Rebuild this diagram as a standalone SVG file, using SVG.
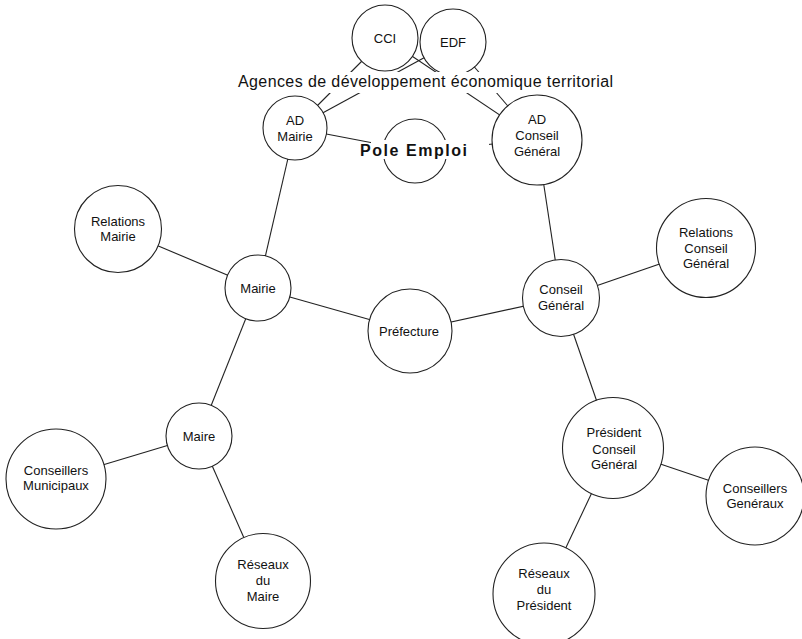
<svg xmlns="http://www.w3.org/2000/svg" width="802" height="639" viewBox="0 0 802 639">
  <style>
    .node circle { fill: #fff; stroke: #222; stroke-width: 1.1; }
    .node text { font-family: "Liberation Sans", Arial, sans-serif; font-size: 13px; fill: #111; text-anchor: middle; }
    #connectors line { stroke: #222; stroke-width: 1.1; }
    .title { font-family: "Liberation Sans", Arial, sans-serif; font-size: 16px; fill: #111; }
    .pole { font-family: "Liberation Sans", Arial, sans-serif; font-size: 16px; font-weight: bold; fill: #111; }
  </style>
  <rect width="802" height="639" fill="#fff"/>

  <!-- connectors, drawn centre to centre beneath the white-filled circles -->
  <g id="connectors">
    <line x1="385" y1="38" x2="295" y2="128"/>
    <line x1="453" y1="42" x2="295" y2="128"/>
    <line x1="385" y1="38" x2="537" y2="140"/>
    <line x1="453" y1="42" x2="537" y2="140"/>
    <line x1="295" y1="128" x2="415" y2="151"/>
    <line x1="415" y1="151" x2="537" y2="140"/>
    <line x1="295" y1="128" x2="258" y2="288"/>
    <line x1="118" y1="229" x2="258" y2="288"/>
    <line x1="258" y1="288" x2="410" y2="331"/>
    <line x1="258" y1="288" x2="199" y2="436"/>
    <line x1="199" y1="436" x2="56" y2="479"/>
    <line x1="199" y1="436" x2="263" y2="581"/>
    <line x1="410" y1="331" x2="561" y2="298"/>
    <line x1="561" y1="298" x2="537" y2="140"/>
    <line x1="561" y1="298" x2="706" y2="248"/>
    <line x1="561" y1="298" x2="613" y2="448"/>
    <line x1="613" y1="448" x2="755" y2="496"/>
    <line x1="613" y1="448" x2="544" y2="594"/>
  </g>

  <g id="cci" class="node">
    <circle cx="385" cy="38" r="33"/>
    <text x="385" y="43">CCI</text>
  </g>
  <g id="edf" class="node">
    <circle cx="453" cy="42" r="33"/>
    <text x="453" y="47">EDF</text>
  </g>

  <!-- heading over the agencies, on a white band -->
  <g id="agences">
    <rect x="236" y="72" width="380" height="21" fill="#fff"/>
    <text class="title" x="238" y="87" textLength="375" lengthAdjust="spacing">Agences de développement économique territorial</text>
  </g>

  <g id="ad-mairie" class="node">
    <circle cx="295" cy="128" r="32"/>
    <text x="295" y="125">AD</text>
    <text x="295" y="141">Mairie</text>
  </g>
  <g id="ad-conseil-general" class="node">
    <circle cx="537" cy="140" r="45"/>
    <text x="537" y="124">AD</text>
    <text x="537" y="140">Conseil</text>
    <text x="537" y="156">Général</text>
  </g>
  <g id="pole-emploi">
    <circle cx="415" cy="151" r="32" fill="#fff" stroke="#222" stroke-width="1.1"/>
    <rect x="371" y="140" width="118" height="19" fill="#fff"/>
    <text class="pole" x="360" y="156" textLength="107" lengthAdjust="spacing">Pole Emploi</text>
  </g>

  <g id="relations-mairie" class="node">
    <circle cx="118" cy="229" r="43.5"/>
    <text x="118" y="226">Relations</text>
    <text x="118" y="241">Mairie</text>
  </g>
  <g id="mairie" class="node">
    <circle cx="258" cy="288" r="33"/>
    <text x="258" y="292.5">Mairie</text>
  </g>
  <g id="prefecture" class="node">
    <circle cx="410" cy="331" r="42"/>
    <text x="409" y="335.5">Préfecture</text>
  </g>
  <g id="conseil-general" class="node">
    <circle cx="561" cy="298" r="38.5"/>
    <text x="561" y="294">Conseil</text>
    <text x="561" y="310">Général</text>
  </g>
  <g id="relations-conseil-general" class="node">
    <circle cx="706" cy="248" r="49.5"/>
    <text x="706" y="237">Relations</text>
    <text x="706" y="253">Conseil</text>
    <text x="706" y="268">Général</text>
  </g>
  <g id="maire" class="node">
    <circle cx="199" cy="436" r="33"/>
    <text x="199" y="441">Maire</text>
  </g>
  <g id="conseillers-municipaux" class="node">
    <circle cx="56" cy="479" r="50"/>
    <text x="56" y="475">Conseillers</text>
    <text x="56" y="490">Municipaux</text>
  </g>
  <g id="reseaux-du-maire" class="node">
    <circle cx="263" cy="581" r="47.5"/>
    <text x="263" y="569">Réseaux</text>
    <text x="263" y="585">du</text>
    <text x="263" y="601">Maire</text>
  </g>
  <g id="president-conseil-general" class="node">
    <circle cx="613" cy="448" r="50.5"/>
    <text x="614" y="437">Président</text>
    <text x="614" y="454">Conseil</text>
    <text x="614" y="469">Général</text>
  </g>
  <g id="conseillers-generaux" class="node">
    <circle cx="755" cy="496" r="49"/>
    <text x="755" y="493">Conseillers</text>
    <text x="755" y="508">Genéraux</text>
  </g>
  <g id="reseaux-du-president" class="node">
    <circle cx="544" cy="594" r="51"/>
    <text x="544" y="578">Réseaux</text>
    <text x="544" y="594">du</text>
    <text x="544" y="610">Président</text>
  </g>
</svg>
